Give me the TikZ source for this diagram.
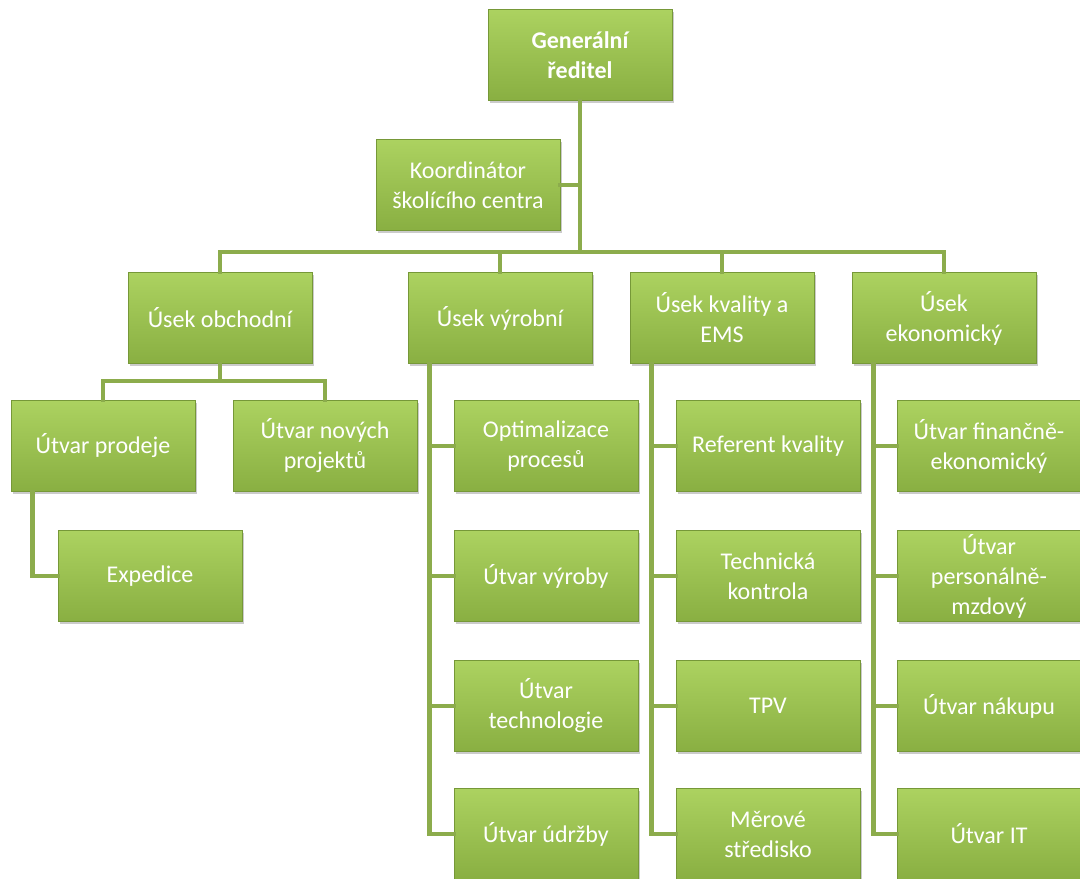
\documentclass[tikz,border=0pt]{standalone}
\usepackage{fontspec}
\setmainfont{Carlito}
\usetikzlibrary{positioning,shadows}
\definecolor{boxtop}{RGB}{172,210,96}
\definecolor{boxbot}{RGB}{137,175,66}
\definecolor{boxedge}{RGB}{118,152,56}
\definecolor{linkcol}{RGB}{140,172,76}
\tikzset{
orgbox/.style={
  rectangle,
  top color=boxtop,
  bottom color=boxbot,
  draw=boxedge,
  line width=0.8pt,
  drop shadow={shadow xshift=1.5pt,shadow yshift=-2pt,fill=black!45,opacity=.45},
  minimum width=184pt,
  minimum height=91pt,
  inner sep=2pt,
  align=center,
  text=white,
  font=\fontsize{24}{30}\selectfont
  },
link/.style={
  draw=linkcol,
  line width=4.5pt,
  line cap=rect
  }
}

\begin{document}
\begin{tikzpicture}[x=1pt,y=-1pt]
\useasboundingbox (0,0) rectangle (1080,879);
\node[orgbox,font=\fontsize{24}{30}\selectfont\bfseries] (gr) at (580,55) {Generální\\ředitel};
\node[orgbox] (koord) at (468,185) {Koordinátor\\školícího centra};

\node[orgbox] (obch) at (220,318) {Úsek obchodní};
\node[orgbox] (vyr) at (500,318) {Úsek výrobní};
\node[orgbox] (kval) at (722,318) {Úsek kvality a\\EMS};
\node[orgbox] (ekon) at (944,318) {Úsek\\ekonomický};

\node[orgbox] (prodej) at (103,446) {Útvar prodeje};
\node[orgbox] (novproj) at (325,446) {Útvar nových\\projektů};
\node[orgbox] (exped) at (150,576) {Expedice};

\node[orgbox] (optim) at (546,446) {Optimalizace\\procesů};
\node[orgbox] (vyroba) at (546,576) {Útvar výroby};
\node[orgbox] (techn) at (546,706) {Útvar\\technologie};
\node[orgbox] (udrzba) at (546,834) {Útvar údržby};

\node[orgbox] (refkval) at (768,446) {Referent kvality};
\node[orgbox] (tk) at (768,576) {Technická\\kontrola};
\node[orgbox] (tpv) at (768,706) {TPV};
\node[orgbox] (meru) at (768,834) {Měrové\\středisko};

\node[orgbox] (finek) at (989,446) {Útvar finančně-\\ekonomický};
\node[orgbox] (perm) at (989,576) {Útvar\\personálně-\\mzdový};
\node[orgbox] (nakup) at (989,706) {Útvar nákupu};
\node[orgbox] (it) at (989,834) {Útvar IT};

\coordinate (bus) at (580,252);
\coordinate (obbus) at (220,381);
\draw[link] (gr.south) -- (bus);
\draw[link] (koord.east) -- (koord.east -| gr.south);
\draw[link] (obch.north) |- (bus) -| (ekon.north);
\draw[link] (vyr.north) -- (vyr.north |- bus);
\draw[link] (kval.north) -- (kval.north |- bus);
\draw[link] (obch.south) -- (obbus);
\draw[link] (prodej.north) |- (obbus) -| (novproj.north);
\draw[link] ([xshift=22pt]prodej.south west) |- (exped.west);
\foreach \k in {optim,vyroba,techn,udrzba}
  \draw[link] ([xshift=22pt]vyr.south west) |- (\k.west);
\foreach \k in {refkval,tk,tpv,meru}
  \draw[link] ([xshift=22pt]kval.south west) |- (\k.west);
\foreach \k in {finek,perm,nakup,it}
  \draw[link] ([xshift=22pt]ekon.south west) |- (\k.west);
\end{tikzpicture}
\end{document}
